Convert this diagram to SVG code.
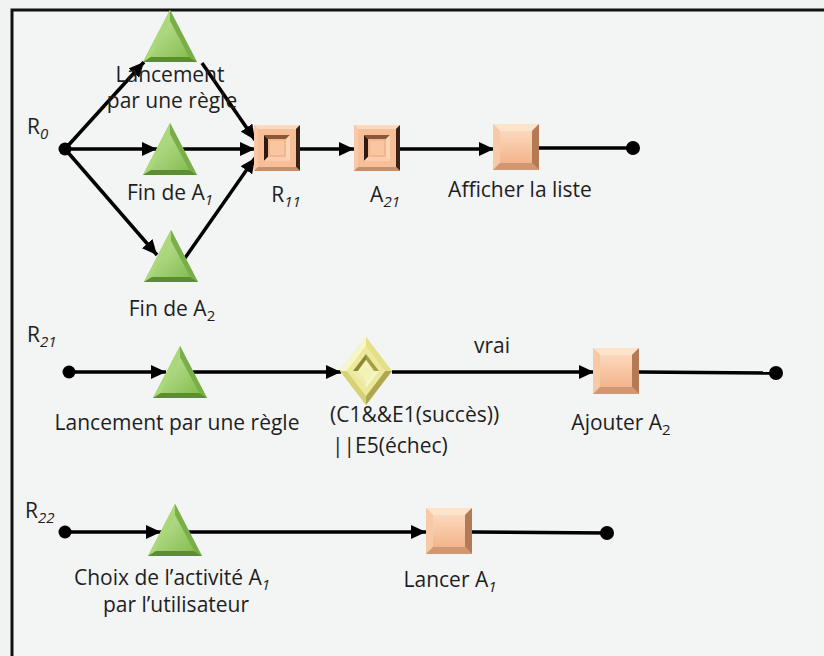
<svg xmlns="http://www.w3.org/2000/svg" width="824" height="656" viewBox="0 0 824 656">
<style>
.bg{fill:#f1f2f2}
.panel{fill:#f3f4f4}
.frame{fill:none;stroke:#111;stroke-width:3}
.c{fill:none;stroke:#000;stroke-width:3.5}
.dot{fill:#000}
.t{font-family:"Open Sans","Liberation Sans",sans-serif;font-size:21px;fill:#1e1e1e}
.s{font-size:15px}
.i{font-style:italic}
</style>
<defs>
<marker id="ah" markerUnits="userSpaceOnUse" markerWidth="15" markerHeight="14" refX="15" refY="7" orient="auto">
<path d="M0,0 L15,7 L0,14 z" fill="#000"/>
</marker>
<linearGradient id="gTri" x1="0" y1="0" x2="1" y2="1">
<stop offset="0" stop-color="#c2e49a"/><stop offset="1" stop-color="#86bd52"/>
</linearGradient>
<linearGradient id="gBox" x1="0" y1="0" x2="0" y2="1">
<stop offset="0" stop-color="#fcd8bd"/><stop offset="1" stop-color="#f3b58b"/>
</linearGradient>
<g id="tri">
<polygon points="0,0 27,52 -27,52" fill="#8cc45a"/>
<polygon points="0,0 -27,52 -19,47 0,11" fill="#acd87c"/>
<polygon points="0,0 0,11 19,47 27,52" fill="#79ae48"/>
<polygon points="-27,52 27,52 19,47 -19,47" fill="#5c8c33"/>
<polygon points="0,11 19,47 -19,47" fill="url(#gTri)"/>
</g>
<g id="box">
<rect x="0" y="0" width="46" height="46" fill="#f4b68d"/>
<polygon points="0,0 46,0 39,7 7,7" fill="#fde2cc"/>
<polygon points="0,0 7,7 7,39 0,46" fill="#f8c9a6"/>
<polygon points="46,0 46,46 39,39 39,7" fill="#b47a55"/>
<polygon points="0,46 46,46 39,39 7,39" fill="#d09772"/>
<rect x="7" y="7" width="32" height="32" fill="url(#gBox)"/>
</g>
<g id="boxIn">
<rect x="0" y="0" width="46" height="46" fill="#f4b68d"/>
<polygon points="0,0 46,0 42,4 4,4" fill="#fcd9bf"/>
<polygon points="0,0 4,4 4,42 0,46" fill="#f8c9a6"/>
<polygon points="46,0 46,46 42,42 42,4" fill="#3a2216"/>
<polygon points="0,46 46,46 42,42 4,42" fill="#c88e68"/>
<rect x="4" y="4" width="38" height="38" fill="#f6bf98"/>
<polygon points="10,10 36,10 32,14 14,14" fill="#8a5738"/>
<polygon points="10,10 14,14 14,32 10,36" fill="#2e1a10"/>
<polygon points="36,10 36,36 32,32 32,14" fill="#fbd5b8"/>
<polygon points="10,36 36,36 32,32 14,32" fill="#f9cdae"/>
<rect x="14" y="14" width="18" height="18" fill="#f4b68d"/>
<rect x="16" y="16" width="14" height="14" fill="#f8c7a2"/>
</g>
<g id="dia">
<polygon points="-26,0 0,-34 26,0 0,34" fill="#e6e38a"/>
<polygon points="-26,0 0,-34 0,-25 -19,0" fill="#f8f6c6"/>
<polygon points="0,-34 26,0 19,0 0,-25" fill="#e4e08a"/>
<polygon points="26,0 0,34 0,25 19,0" fill="#aea74f"/>
<polygon points="0,34 -26,0 -19,0 0,25" fill="#d6d177"/>
<polygon points="-19,0 0,-25 19,0 0,25" fill="#ece99c"/>
<polygon points="-13,0 0,-17 0,-11 -8,0" fill="#8f8735"/>
<polygon points="0,-17 13,0 8,0 0,-11" fill="#a69e45"/>
<polygon points="13,0 0,17 0,11 8,0" fill="#f7f5c8"/>
<polygon points="0,17 -13,0 -8,0 0,11" fill="#eeeab0"/>
<polygon points="-8,0 0,-11 8,0 0,11" fill="#f4f2b6"/>
</g>
</defs>
<rect class="bg" x="0" y="0" width="824" height="656"/>
<rect class="panel" x="12" y="10" width="820" height="660"/>
<path class="frame" d="M12,658 L12,10 L826,10"/>

<g id="connectors">
<line class="c" x1="65" y1="149" x2="144" y2="62" marker-end="url(#ah)"/>
<line class="c" x1="65" y1="149" x2="157" y2="149" marker-end="url(#ah)"/>
<line class="c" x1="65" y1="149" x2="157" y2="255" marker-end="url(#ah)"/>
<line class="c" x1="202" y1="63" x2="255" y2="140" marker-end="url(#ah)"/>
<line class="c" x1="183" y1="149" x2="255" y2="149" marker-end="url(#ah)"/>
<line class="c" x1="185" y1="258" x2="255" y2="158" marker-end="url(#ah)"/>
<line class="c" x1="300" y1="149" x2="354" y2="149" marker-end="url(#ah)"/>
<line class="c" x1="400" y1="149" x2="494" y2="149" marker-end="url(#ah)"/>
<line class="c" x1="539" y1="148" x2="633" y2="148"/>

<line class="c" x1="69" y1="372" x2="166" y2="372" marker-end="url(#ah)"/>
<line class="c" x1="193" y1="372" x2="341" y2="372" marker-end="url(#ah)"/>
<line class="c" x1="392" y1="372" x2="594" y2="372" marker-end="url(#ah)"/>
<line class="c" x1="639" y1="372" x2="776" y2="373"/>

<line class="c" x1="65" y1="532" x2="161" y2="532" marker-end="url(#ah)"/>
<line class="c" x1="188" y1="532" x2="426" y2="532" marker-end="url(#ah)"/>
<line class="c" x1="472" y1="532" x2="607" y2="533"/>
</g>

<g id="R0">
<circle class="dot" cx="65" cy="149" r="6.5"/>
<text class="t" x="27" y="134">R<tspan class="s i" dy="5">0</tspan></text>
</g>
<g id="lancement1">
<use href="#tri" x="170" y="10"/>
<text class="t" x="170" y="82" text-anchor="middle">Lancement</text>
<text class="t" x="172" y="108" text-anchor="middle">par une règle</text>
</g>
<g id="finA1">
<use href="#tri" x="170" y="123"/>
<text class="t" x="170" y="200" text-anchor="middle">Fin de A<tspan class="s i" dy="5">1</tspan></text>
</g>
<g id="finA2">
<use href="#tri" x="171" y="230"/>
<text class="t" x="172" y="316" text-anchor="middle">Fin de A<tspan class="s" dy="5">2</tspan></text>
</g>
<g id="R11">
<use href="#boxIn" x="254" y="125"/>
<text class="t" x="286" y="202" text-anchor="middle">R<tspan class="s i" dy="5">11</tspan></text>
</g>
<g id="A21">
<use href="#boxIn" x="354" y="125"/>
<text class="t" x="385" y="202" text-anchor="middle">A<tspan class="s i" dy="5">21</tspan></text>
</g>
<g id="afficher">
<use href="#box" x="493" y="124"/>
<text class="t" x="520" y="197" text-anchor="middle">Afficher la liste</text>
</g>
<g id="end1"><circle class="dot" cx="633" cy="148" r="7"/></g>

<g id="R21">
<circle class="dot" cx="69" cy="372" r="6.5"/>
<text class="t" x="27" y="342">R<tspan class="s i" dy="5">21</tspan></text>
</g>
<g id="lancement2">
<use href="#tri" x="180" y="346"/>
<text class="t" x="177" y="430" text-anchor="middle">Lancement par une règle</text>
</g>
<g id="condition">
<use href="#dia" x="366" y="371"/>
<text class="t" x="330" y="422">(C1&amp;&amp;E1(succès))</text>
<text class="t" x="332" y="453">||E5(échec)</text>
</g>
<text class="t" x="492" y="353" text-anchor="middle">vrai</text>
<g id="ajouter">
<use href="#box" x="593" y="348"/>
<text class="t" x="621" y="430" text-anchor="middle">Ajouter A<tspan class="s" dy="5">2</tspan></text>
</g>
<g id="end2"><circle class="dot" cx="776" cy="373" r="7"/></g>

<g id="R22">
<circle class="dot" cx="65" cy="532" r="6.5"/>
<text class="t" x="25" y="518">R<tspan class="s i" dy="5">22</tspan></text>
</g>
<g id="choix">
<use href="#tri" x="175" y="504"/>
<text class="t" x="172" y="585" text-anchor="middle">Choix de l’activité A<tspan class="s i" dy="5">1</tspan></text>
<text class="t" x="176" y="612" text-anchor="middle">par l’utilisateur</text>
</g>
<g id="lancer">
<use href="#box" x="426" y="508"/>
<text class="t" x="450" y="587" text-anchor="middle">Lancer A<tspan class="s i" dy="5">1</tspan></text>
</g>
<g id="end3"><circle class="dot" cx="607" cy="533" r="7"/></g>
</svg>
